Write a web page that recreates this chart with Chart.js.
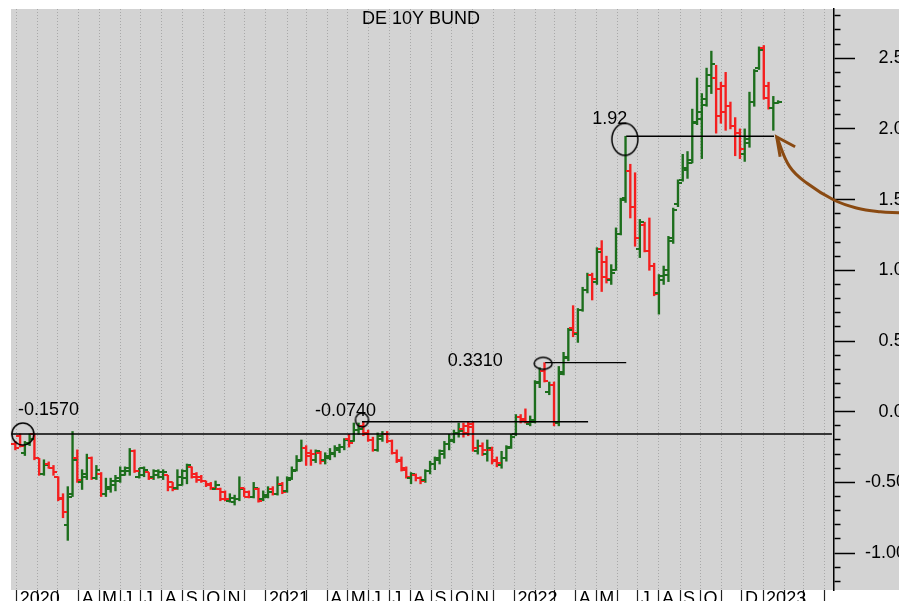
<!DOCTYPE html>
<html>
<head>
<meta charset="utf-8">
<script src="https://cdn.jsdelivr.net/npm/chart.js@4/dist/chart.umd.min.js"></script>
<style>
  html, body { margin: 0; padding: 0; background: #fff; }
</style>
</head>
<body>
<canvas id="bundChart" width="899" height="601"></canvas>
<script>
// DE 10Y Bund yield, weekly bars, weeks starting Mon 30 Dec 2019
const opens = [
  -0.23,-0.17,-0.29,-0.23,-0.16,-0.33,-0.44,-0.37,-0.40,-0.46,
  -0.62,-0.80,-0.58,-0.33,-0.50,-0.46,-0.33,-0.47,-0.44,-0.58,
  -0.55,-0.52,-0.49,-0.45,-0.42,-0.28,-0.46,-0.45,-0.43,-0.46,
  -0.45,-0.46,-0.45,-0.50,-0.54,-0.52,-0.47,-0.39,-0.44,-0.46,
  -0.49,-0.51,-0.55,-0.55,-0.57,-0.63,-0.64,-0.62,-0.54,-0.57,
  -0.60,-0.55,-0.62,-0.60,-0.55,-0.58,-0.51,-0.56,-0.47,-0.41,
  -0.34,-0.26,-0.29,-0.34,-0.29,-0.34,-0.33,-0.30,-0.27,-0.25,
  -0.19,-0.21,-0.13,-0.10,-0.15,-0.20,-0.27,-0.19,-0.16,-0.21,
  -0.29,-0.34,-0.41,-0.47,-0.45,-0.47,-0.48,-0.42,-0.37,-0.34,
  -0.30,-0.23,-0.21,-0.15,-0.12,-0.10,-0.09,-0.28,-0.24,-0.30,
  -0.27,-0.34,-0.38,-0.33,-0.25,-0.16,-0.04,-0.05,-0.09,-0.07,
  0.20,0.29,0.14,0.19,-0.08,0.28,0.38,0.59,0.55,0.72,
  0.86,0.97,0.92,1.15,1.06,0.93,1.00,1.26,1.51,1.70,
  1.45,1.15,1.32,1.14,1.03,0.84,0.93,0.97,1.21,1.47,
  1.64,1.71,1.76,2.05,2.07,2.17,2.30,2.36,2.28,2.30,
  2.16,2.02,1.97,1.82,1.90,2.19,2.43,2.57,2.30,2.15,
  2.18
];
const highs = [
  -0.21,-0.157,-0.21,-0.157,-0.157,-0.33,-0.34,-0.355,-0.38,-0.46,
  -0.58,-0.53,-0.14,-0.27,-0.41,-0.30,-0.32,-0.38,-0.43,-0.47,
  -0.47,-0.45,-0.39,-0.39,-0.26,-0.27,-0.40,-0.39,-0.43,-0.41,
  -0.41,-0.41,-0.45,-0.50,-0.41,-0.41,-0.37,-0.39,-0.43,-0.45,
  -0.49,-0.50,-0.49,-0.54,-0.56,-0.58,-0.59,-0.46,-0.54,-0.56,
  -0.50,-0.54,-0.56,-0.53,-0.53,-0.46,-0.50,-0.46,-0.39,-0.31,
  -0.20,-0.24,-0.27,-0.27,-0.28,-0.29,-0.26,-0.24,-0.23,-0.19,
  -0.16,-0.08,-0.08,-0.071,-0.13,-0.18,-0.15,-0.14,-0.14,-0.20,
  -0.27,-0.32,-0.39,-0.43,-0.44,-0.46,-0.41,-0.35,-0.32,-0.27,
  -0.21,-0.16,-0.13,-0.08,-0.08,-0.07,-0.07,-0.20,-0.22,-0.20,
  -0.25,-0.32,-0.28,-0.24,-0.16,-0.02,-0.02,0.02,-0.03,0.22,
  0.31,0.347,0.21,0.21,0.32,0.42,0.59,0.75,0.73,0.88,
  0.98,0.98,1.16,1.21,1.10,1.04,1.30,1.51,1.948,1.75,
  1.69,1.36,1.34,1.37,1.05,0.97,1.03,1.24,1.44,1.64,
  1.82,1.84,2.14,2.36,2.25,2.43,2.55,2.45,2.33,2.40,
  2.19,2.08,2.00,2.00,2.26,2.42,2.58,2.59,2.33,2.23,
  2.20
];
const lows = [
  -0.27,-0.25,-0.31,-0.24,-0.34,-0.45,-0.45,-0.40,-0.45,-0.63,
  -0.75,-0.91,-0.60,-0.50,-0.55,-0.48,-0.48,-0.48,-0.60,-0.60,
  -0.57,-0.56,-0.50,-0.45,-0.45,-0.43,-0.47,-0.46,-0.48,-0.48,
  -0.47,-0.48,-0.56,-0.56,-0.55,-0.52,-0.51,-0.47,-0.50,-0.50,
  -0.53,-0.55,-0.55,-0.63,-0.63,-0.64,-0.66,-0.63,-0.60,-0.61,
  -0.61,-0.64,-0.63,-0.61,-0.59,-0.59,-0.58,-0.57,-0.48,-0.42,
  -0.35,-0.38,-0.38,-0.36,-0.37,-0.37,-0.34,-0.32,-0.29,-0.27,
  -0.25,-0.21,-0.16,-0.17,-0.21,-0.28,-0.28,-0.21,-0.22,-0.30,
  -0.36,-0.42,-0.47,-0.51,-0.49,-0.51,-0.50,-0.44,-0.41,-0.37,
  -0.33,-0.27,-0.22,-0.18,-0.18,-0.17,-0.28,-0.30,-0.31,-0.35,
  -0.37,-0.39,-0.40,-0.35,-0.26,-0.17,-0.08,-0.08,-0.10,-0.08,
  0.17,0.21,0.12,-0.10,-0.10,0.26,0.36,0.53,0.49,0.71,
  0.84,0.79,0.90,0.85,0.91,0.90,1.00,1.25,1.48,1.37,
  1.17,1.09,1.13,1.00,0.82,0.69,0.90,0.92,1.19,1.45,
  1.63,1.65,1.76,2.03,1.79,2.16,2.25,1.97,2.04,1.99,
  2.00,1.81,1.79,1.77,1.87,2.16,2.42,2.21,2.14,1.99,
  2.18
];
const closes = [
  -0.26,-0.24,-0.22,-0.19,-0.33,-0.44,-0.38,-0.40,-0.43,-0.61,
  -0.71,-0.60,-0.34,-0.48,-0.44,-0.33,-0.47,-0.41,-0.58,-0.53,
  -0.49,-0.47,-0.42,-0.40,-0.28,-0.42,-0.40,-0.41,-0.47,-0.42,
  -0.43,-0.43,-0.53,-0.55,-0.46,-0.42,-0.38,-0.46,-0.48,-0.49,
  -0.52,-0.54,-0.52,-0.62,-0.62,-0.61,-0.62,-0.55,-0.60,-0.60,
  -0.54,-0.63,-0.59,-0.57,-0.58,-0.52,-0.57,-0.48,-0.42,-0.35,
  -0.26,-0.31,-0.30,-0.28,-0.35,-0.31,-0.29,-0.26,-0.25,-0.20,
  -0.22,-0.13,-0.12,-0.16,-0.20,-0.27,-0.17,-0.16,-0.21,-0.29,
  -0.35,-0.40,-0.46,-0.44,-0.47,-0.49,-0.42,-0.37,-0.33,-0.28,
  -0.23,-0.20,-0.15,-0.14,-0.15,-0.11,-0.26,-0.24,-0.27,-0.26,
  -0.35,-0.36,-0.33,-0.26,-0.18,-0.04,-0.06,-0.07,-0.06,0.21,
  0.29,0.22,0.19,-0.08,0.27,0.39,0.58,0.56,0.72,0.86,
  0.97,0.94,1.13,0.95,0.94,0.98,1.26,1.50,1.70,1.45,
  1.23,1.34,1.14,1.03,0.83,0.96,1.00,1.23,1.43,1.62,
  1.72,1.78,2.04,2.12,2.21,2.38,2.46,2.09,2.12,2.16,
  2.02,1.97,1.86,1.93,2.19,2.41,2.56,2.22,2.15,2.18,
  2.19
];

// month ticks Jan 2020 .. Apr 2023 (blank where the original shows none)
const monthLabels = [
  '2020','','','A','M','J','J','A','S','O','N','',
  '2021','','','A','M','J','J','A','S','O','N','',
  '2022','','','A','M','','J','A','S','O','','D',
  '2023','','',''
];

// marked levels: label, value, from / to (day numbers since 1 Jan 2020)
const levelNames = ['-0.1570', '-0.0740', '0.3310', '1.92'];
const levelValues = [-0.158, -0.071, 0.347, 1.948];
const levelFrom = [-8, 507, 776, 895];
const levelTo = [1197, 839, 895, 1112];

// brown arrow, drawn from the right edge in to the last bars (day, yield)
const arrowDays = [1296, 1268, 1233, 1200, 1160, 1135, 1116];
const arrowVals = [1.407, 1.414, 1.441, 1.497, 1.617, 1.733, 1.943];

const DAY = 86400000;
const T0 = Date.UTC(2020, 0, 1);
const firstWeek = Date.UTC(2019, 11, 30);
const weekDays = opens.map((_, i) => (firstWeek - T0) / DAY + 7 * i);
const monthDays = monthLabels.map((_, m) => (Date.UTC(2020, m, 1) - T0) / DAY);

const UP = '#1d6e1d';
const DOWN = '#f41f1f';
const FONT = '"Liberation Sans", Arial, sans-serif';

const isUp = i => closes[i] >= opens[i];

function tickImage(color, side) {
  const c = document.createElement('canvas');
  c.width = 8; c.height = 2;
  const g = c.getContext('2d');
  g.fillStyle = color;
  g.fillRect(side === 'left' ? 0 : 4, 0, 4, 2);
  return c;
}
const tickImgs = {
  upL: tickImage(UP, 'left'), upR: tickImage(UP, 'right'),
  dnL: tickImage(DOWN, 'left'), dnR: tickImage(DOWN, 'right')
};

function ringImage(rx, ry) {
  const c = document.createElement('canvas');
  c.width = Math.ceil(rx * 2 + 4);
  c.height = Math.ceil(ry * 2 + 4);
  const g = c.getContext('2d');
  g.strokeStyle = '#000';
  g.lineWidth = 1.5;
  g.beginPath();
  g.ellipse(c.width / 2, c.height / 2, rx, ry, 0, 0, Math.PI * 2);
  g.stroke();
  return c;
}

// annotation layout (circles round the marked highs, text placement)
const rings = [
  { x: 9, y: -0.158, img: ringImage(11, 11) },
  { x: 507, y: -0.059, img: ringImage(6.5, 7) },
  { x: 773, y: 0.342, img: ringImage(9, 6) },
  { x: 893, y: 1.926, img: ringImage(13, 16) }
];
const textPos = [
  { x: 2, y: -0.023 },
  { x: 438, y: -0.030 },
  { x: 633, y: 0.323 },
  { x: 845, y: 2.035 }
];

const isMajor = v => Math.abs(v * 2 - Math.round(v * 2)) < 1e-6;

const backdrop = {
  id: 'backdrop',
  beforeDraw(chart) {
    const ctx = chart.ctx;
    ctx.save();
    ctx.fillStyle = '#fff';
    ctx.fillRect(0, 0, chart.width, chart.height);
    ctx.fillStyle = '#d3d3d3';
    ctx.fillRect(11, 9, chart.width - 11, chart.chartArea.bottom - 9);
    ctx.restore();
  },
  afterDatasetsDraw(chart) {
    const ctx = chart.ctx;
    const xs = chart.scales.x, ys = chart.scales.y;
    ctx.save();
    ctx.fillStyle = '#000';
    ctx.font = '18px ' + FONT;
    ctx.textBaseline = 'alphabetic';
    ctx.textAlign = 'center';
    ctx.fillText('DE 10Y BUND', 421, 24);
    ctx.textAlign = 'left';
    levelNames.forEach((t, i) => {
      ctx.fillText(t, xs.getPixelForValue(textPos[i].x), ys.getPixelForValue(textPos[i].y));
    });
    ctx.restore();
  }
};

const datasets = [];

// arrow
datasets.push({
  type: 'line', order: 0, clip: false,
  data: arrowDays.map((d, i) => ({ x: d, y: arrowVals[i] })),
  borderColor: '#8a4a12', borderWidth: 3, pointRadius: 0,
  tension: 0.4
});
datasets.push({
  type: 'line', order: 0, clip: false,
  data: [{ x: 1143, y: 1.874 }, { x: 1116, y: 1.943 }, { x: 1121, y: 1.803 }],
  borderColor: '#8a4a12', borderWidth: 3, pointRadius: 0, tension: 0,
  borderJoinStyle: 'miter'
});

// circles
datasets.push({
  type: 'line', order: 1, showLine: false, clip: false,
  data: rings.map(r => ({ x: r.x, y: r.y })),
  pointStyle: ctx => rings[ctx.dataIndex].img,
  pointRadius: 5
});

// level lines
levelValues.forEach((v, i) => {
  datasets.push({
    type: 'line', order: 2,
    data: [{ x: levelFrom[i], y: v }, { x: levelTo[i], y: v }],
    borderColor: '#000', borderWidth: 1.4, pointRadius: 0
  });
});

// OHLC: high-low bars, open tick left, close tick right
datasets.push({
  type: 'bar', order: 5, grouped: false,
  data: weekDays.map((d, i) => ({ x: d, y: [lows[i], highs[i]] })),
  backgroundColor: ctx => isUp(ctx.dataIndex) ? UP : DOWN,
  borderWidth: 0, barThickness: 1.7
});
datasets.push({
  type: 'line', order: 4, showLine: false,
  data: weekDays.map((d, i) => ({ x: d, y: opens[i] })),
  pointStyle: ctx => isUp(ctx.dataIndex) ? tickImgs.upL : tickImgs.dnL,
  pointRadius: 2
});
datasets.push({
  type: 'line', order: 4, showLine: false,
  data: weekDays.map((d, i) => ({ x: d, y: closes[i] })),
  pointStyle: ctx => isUp(ctx.dataIndex) ? tickImgs.upR : tickImgs.dnR,
  pointRadius: 2
});

new Chart(document.getElementById('bundChart'), {
  type: 'bar',
  data: { datasets },
  options: {
    responsive: false,
    animation: false,
    devicePixelRatio: 1,
    events: [],
    layout: { padding: { left: 11, top: 9, right: 0, bottom: 0 } },
    plugins: { legend: { display: false }, tooltip: { enabled: false }, title: { display: false } },
    scales: {
      x: {
        type: 'linear', min: -8.37, max: 1200.1, offset: false,
        afterBuildTicks: s => { s.ticks = monthDays.map(v => ({ value: v })); },
        afterFit: s => { s.height = 11; s.paddingLeft = 0; s.paddingRight = 0; },
        grid: {
          offset: false, color: '#a8a8a8', lineWidth: 1,
          drawTicks: true, tickLength: 12, tickColor: '#222', tickWidth: 1.2, tickBorderDash: []
        },
        border: { display: false, dash: [1, 2] },
        ticks: {
          autoSkip: false, maxRotation: 0, minRotation: 0, align: 'start',
          padding: -14, labelOffset: 3, color: '#000',
          font: { family: FONT, size: 18 },
          callback: (v, i) => monthLabels[i]
        }
      },
      y: {
        position: 'right', min: -1.261, max: 2.848, beginAtZero: false,
        afterFit: s => { s.width = 65; s.paddingTop = 0; s.paddingBottom = 0; },
        grid: {
          drawOnChartArea: false, drawTicks: true, tickLength: 21,
          tickColor: '#000', tickWidth: 1.5,
          tickBorderDash: c => (c.tick && !isMajor(c.tick.value)) ? [6, 40] : []
        },
        border: { display: true, color: '#000', width: 1.5 },
        ticks: {
          stepSize: 0.1, includeBounds: false, maxTicksLimit: 100, autoSkip: false,
          padding: 10, color: '#000', font: { family: FONT, size: 18 },
          callback: v => isMajor(v) ? (v < 0 ? v.toFixed(2) : '\u2007\u2009' + v.toFixed(2)) : ''
        }
      }
    }
  },
  plugins: [backdrop]
});
</script>
</body>
</html>
